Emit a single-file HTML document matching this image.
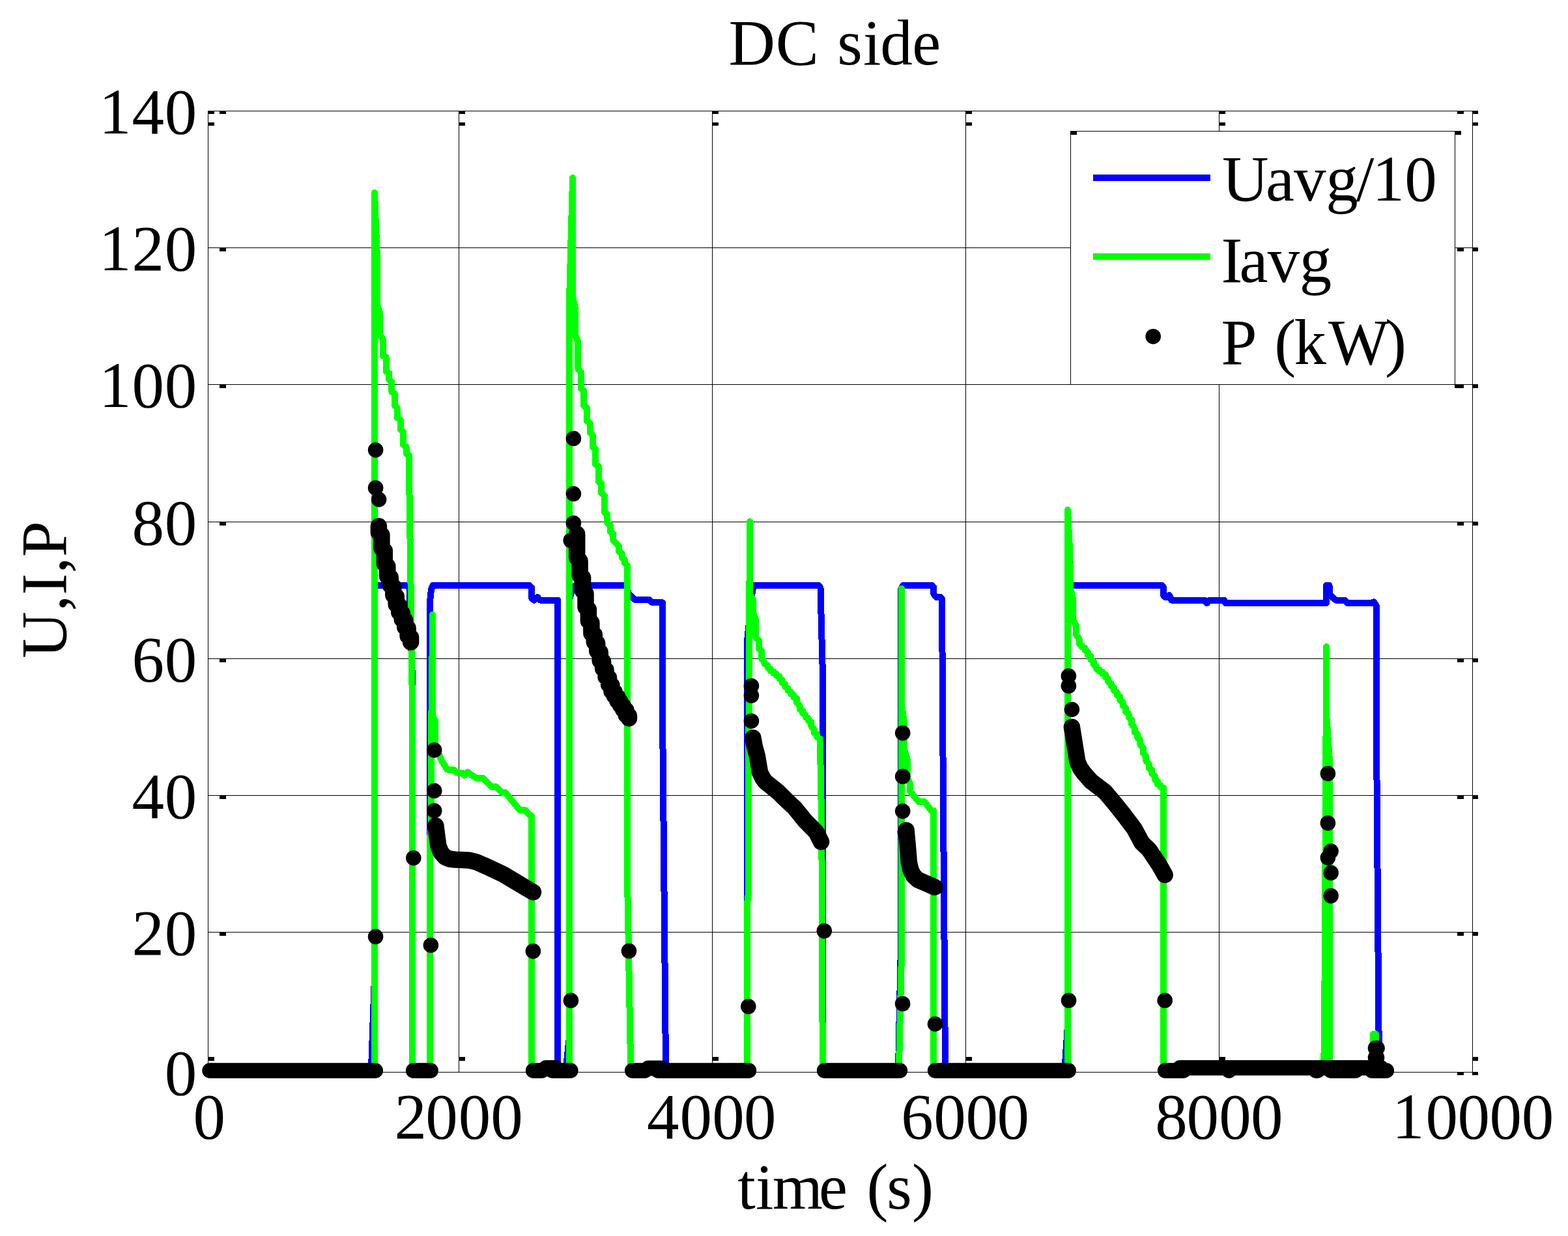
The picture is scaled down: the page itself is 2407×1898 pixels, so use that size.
<!DOCTYPE html>
<html lang="en">
<head>
<meta charset="utf-8">
<title>DC side</title>
<style>html,body{margin:0;padding:0;background:#fff}svg{display:block}</style>
</head>
<body>
<svg width="2407" height="1898" viewBox="0 0 2407 1898">
<rect width="2407" height="1898" fill="#fff"/>
<g fill="#000" shape-rendering="crispEdges">
<rect x="704" y="170" width="1" height="1476"/>
<rect x="1093" y="170" width="1" height="1476"/>
<rect x="1482" y="170" width="1" height="1476"/>
<rect x="1871" y="170" width="1" height="1476"/>
<rect x="319" y="380" width="1941" height="1"/>
<rect x="319" y="590" width="1941" height="1"/>
<rect x="319" y="801" width="1941" height="1"/>
<rect x="319" y="1011" width="1941" height="1"/>
<rect x="319" y="1221" width="1941" height="1"/>
<rect x="319" y="1431" width="1941" height="1"/>
<rect x="319" y="170" width="1" height="1477"/>
<rect x="2260" y="170" width="1" height="1477"/>
<rect x="319" y="170" width="1942" height="1"/>
<rect x="319" y="1646" width="1942" height="1"/>
<rect x="319" y="170" width="10" height="5"/>
<rect x="319" y="188" width="10" height="5"/>
<rect x="319" y="1623" width="10" height="6"/>
<rect x="704" y="170" width="10" height="5"/>
<rect x="704" y="188" width="10" height="5"/>
<rect x="704" y="1623" width="10" height="6"/>
<rect x="1093" y="170" width="10" height="5"/>
<rect x="1093" y="188" width="10" height="5"/>
<rect x="1093" y="1623" width="10" height="6"/>
<rect x="1482" y="170" width="10" height="5"/>
<rect x="1482" y="188" width="10" height="5"/>
<rect x="1482" y="1623" width="10" height="6"/>
<rect x="1871" y="170" width="10" height="5"/>
<rect x="1871" y="188" width="10" height="5"/>
<rect x="1871" y="1623" width="10" height="6"/>
<rect x="2260" y="170" width="9" height="5"/>
<rect x="2260" y="188" width="9" height="5"/>
<rect x="2260" y="1623" width="9" height="6"/>
<rect x="337" y="170" width="10" height="5"/>
<rect x="2237" y="170" width="10" height="5"/>
<rect x="2260" y="170" width="9" height="5"/>
<rect x="337" y="380" width="10" height="6"/>
<rect x="2237" y="380" width="10" height="6"/>
<rect x="2260" y="380" width="9" height="6"/>
<rect x="337" y="590" width="10" height="6"/>
<rect x="2237" y="590" width="10" height="6"/>
<rect x="2260" y="590" width="9" height="6"/>
<rect x="337" y="801" width="10" height="6"/>
<rect x="2237" y="801" width="10" height="6"/>
<rect x="2260" y="801" width="9" height="6"/>
<rect x="337" y="1011" width="10" height="6"/>
<rect x="2237" y="1011" width="10" height="6"/>
<rect x="2260" y="1011" width="9" height="6"/>
<rect x="337" y="1221" width="10" height="6"/>
<rect x="2237" y="1221" width="10" height="6"/>
<rect x="2260" y="1221" width="9" height="6"/>
<rect x="337" y="1431" width="10" height="6"/>
<rect x="2237" y="1431" width="10" height="6"/>
<rect x="2260" y="1431" width="9" height="6"/>
<rect x="337" y="1646" width="10" height="5"/>
<rect x="2237" y="1646" width="10" height="5"/>
<rect x="2260" y="1646" width="9" height="5"/>
</g>
<g fill="none" stroke-width="10" stroke-linejoin="round" stroke-linecap="round" shape-rendering="crispEdges">
<polyline stroke="#00f" points="319,1643 570,1643 570,1641 575,1500 575,905 577,899 625,899 628.7,904 629,928 632.9,1040 632.9,1060 633,1100 633,1641 659.9,1641 659.9,925 662,905 664.5,899 812.7,899 816.3,903 816.3,919 820,921.6 825.2,917 829,921.6 856,921.6 856,1641 869,1641 872,1610 874.3,1590 874.3,920 878,907 883,899 961,899 963,902 964,910 968.4,915 975,921.2 997,921.2 1001.3,925.4 1017.1,925.4 1017.5,1150 1022,1641 1147.4,1641 1147.4,980 1149.5,960 1152,930 1155.5,905 1158,899 1257,899 1259.5,903 1262.5,1020 1263,1300 1263,1641 1379,1641 1383,1450 1383,905 1386,899 1431,899 1433.4,902 1433.4,912 1437,917 1444,917 1446,920 1448,1240 1451,1641 1634.5,1641 1638,1590 1639.2,1570 1639.2,905 1642,899 1784,899 1786.2,902 1786.2,915 1789,917 1791,917 1795,914 1798.5,921.6 1849,921.6 1852.7,926.3 1856.5,921.6 1879,921.6 1881,925.9 2036,925.9 2036,899 2040.5,899 2040.5,911 2046,918 2051,921.7 2064,921.7 2068,925.9 2105,925.9 2109,924.5 2112.7,930 2113,1130 2115,1400 2117,1641"/>
<polyline stroke="#0f0" points="319,1643 575,1643 575,1641 575,296 578.7,390 578.7,467 582.9,480 582.9,513 587.9,521.6 587.9,546.6 592.5,548.2 592.5,569.8 597.4,573.2 597.4,583.1 601.2,586.5 601.2,601.4 606,604.8 606,623 609.8,626.4 609.8,641.3 614.8,644.7 614.8,659.6 619,663 619,682.9 623.6,686.2 623.6,696.2 628.1,699.5 628.1,733 630.3,880 633,1090 633,1641 660.2,1641 660.2,1285 662.1,1270 662.1,1095 662.9,1088 664,944 664.2,1100 668,1106 668,1140 672.5,1155 677.2,1166.5 686.3,1181.5 695.5,1181.5 701.3,1186.5 709.6,1186.5 712.9,1190.6 717.9,1185.6 724.6,1190.6 731.2,1194.8 741.2,1194.8 754.5,1208.1 761.2,1208.1 771.1,1217.2 776.1,1217.2 797.7,1243.8 806,1243.8 814.4,1253 816,1253 816,1641 874.1,1641 874.1,458 879.1,273 879.1,456 882.9,473 882.9,514 887.4,525 887.4,566.5 892,571.5 892,596.4 896,599.8 896,623 900.9,626.4 900.9,646.3 905.7,649.7 905.7,664.6 909.8,668 909.8,686.2 914,689.6 914,712.8 919,716.2 919,739.4 923.1,742.8 923.1,756.6 928.1,761.6 928.1,786.6 932.3,789.9 932.3,803.2 936.9,806.5 936.9,816.5 941.4,819.8 941.4,829.8 945.5,834 949.7,838.1 949.7,846.4 954.7,849.7 954.7,856.4 958.9,859.7 958.9,864.7 963.4,868.9 963.5,1378 968.2,1641 1147.3,1641 1147.3,1385 1148.6,1375 1148.6,1250 1149.9,1040 1150.9,801 1151,912 1155.7,920 1155.7,940 1159.9,951 1159.9,978 1164.9,983 1164.9,996 1169.1,999.4 1169.1,1011 1174,1018 1174,1019.6 1178.5,1021.8 1178.5,1025.1 1182.9,1027.3 1182.9,1030 1187.4,1031.4 1187.4,1033.5 1191.9,1034.9 1191.9,1037 1196.3,1038.4 1196.3,1041.8 1200.8,1044.4 1200.8,1048.3 1205.2,1050.8 1205.2,1054.7 1209.7,1057.3 1209.7,1060.5 1214.2,1062.5 1214.2,1065.5 1218.6,1067.6 1218.6,1070.6 1223.1,1072.6 1223.1,1078.9 1227.6,1083.6 1227.6,1088.8 1232,1091.3 1232,1095 1236.5,1097.6 1236.5,1101 1240.9,1103.3 1240.9,1106.7 1245.4,1109 1245.4,1115.3 1249.9,1120 1249.9,1125.3 1254.3,1127.9 1254.3,1131.8 1258.8,1134.4 1258.8,1136.4 1261.3,1270 1262.8,1641 1379.9,1641 1384.3,1450 1384,904 1384.5,1086 1387.7,1106.5 1387.7,1150 1392.7,1166 1392.7,1195 1396.8,1203 1396.8,1214.5 1406,1226.2 1410.2,1231.2 1419.3,1231.2 1429.3,1244.5 1433.4,1244.5 1433,1641 1639,1641 1639,783 1642.4,851 1642.9,901 1646.6,918 1646.9,951 1652,961 1652,974.5 1656.5,981 1656.5,988 1661,992 1661,993.3 1665.5,995 1665.5,998.5 1669.9,1001.2 1669.9,1005.3 1674.4,1008 1674.4,1012.6 1678.9,1015.9 1678.9,1020.8 1683.4,1024 1683.4,1027.3 1687.8,1028.7 1687.8,1030.8 1692.3,1032.3 1692.3,1034.4 1696.8,1035.8 1696.8,1039.4 1701.2,1042.3 1701.2,1046.7 1705.7,1049.6 1705.7,1053.8 1710.2,1056.5 1710.2,1060.5 1714.7,1063.1 1714.7,1067.2 1719.1,1069.8 1719.1,1074.7 1723.6,1078.3 1723.6,1083.6 1728.1,1087.2 1728.1,1092.6 1732.5,1096.2 1732.5,1101.5 1737,1105.1 1737,1111.8 1741.5,1117.7 1741.5,1123.9 1746,1126.9 1746,1132.1 1750.4,1136.3 1750.4,1143.5 1754.9,1148.7 1754.9,1156.6 1759.4,1161.8 1759.4,1168.9 1763.8,1173.1 1763.8,1179.2 1768.3,1182.7 1768.3,1188.1 1772.8,1191.7 1772.8,1197 1777.3,1200.6 1777.3,1204.3 1781.7,1205.9 1781.7,1208.3 1786.2,1210 1786.2,1211.2 1786,1641 2032.3,1641 2034.3,1420 2034.9,1135 2036.1,1125 2036.1,993 2036.3,1100 2040.8,1165 2041,1641 2108,1641 2108,1588 2112,1588 2112,1641"/>
</g>
<g fill="none" stroke="#000" stroke-width="23.5" stroke-linejoin="round" stroke-linecap="round">
<polyline points="322,1644 576.3,1644"/>
<polyline points="634.6,1644 661.2,1644"/>
<polyline points="818.6,1644 832,1644"/>
<polyline points="838,1639.7 853,1639.7"/>
<polyline points="848,1644 875.9,1644"/>
<polyline points="970.7,1644 990,1644"/>
<polyline points="995,1640.3 1016,1640.3"/>
<polyline points="1010,1644 1149.5,1644"/>
<polyline points="1265.6,1644 1381.4,1644"/>
<polyline points="1435.6,1644 1640.2,1644"/>
<polyline points="1788.6,1644 1816.7,1644"/>
<polyline points="1811.3,1639.7 2120,1639.7"/>
<polyline points="1886.5,1644 1886.6,1644"/>
<polyline points="2020,1644 2022.5,1644"/>
<polyline points="2043,1644 2081,1644"/>
<polyline points="2106,1644 2128.3,1644"/>
<polyline stroke-width="25.5" points="581.4,808 581.4,817.8 585.9,821.6 585.9,841.9 590.3,845.8 590.3,865.8 594.8,869.5 594.8,885 599.3,887.1 599.3,898.8 603.8,901.1 603.8,913.7 608.2,916.2 608.2,928 612.7,930 612.7,939.9 617.2,941.6 617.2,950.7 621.7,952.5 621.7,962.8 626.1,964.8 626.1,976.5 630.6,979.1 630.6,986"/>
<polyline stroke-width="25.5" points="668.9,1268 671,1285 673,1299.5 677,1309 683,1316 690,1319 698,1320 719.6,1321 731,1323.6 747.9,1331 772.8,1342.8 789.4,1352.7 806,1362.7 818.5,1370"/>
<polyline stroke-width="25.5" points="885.7,820 885.7,856.3 890.1,861.4 890.1,883.5 894.6,887 894.6,907.3 899,911.6 899,932.2 903.4,935.8 903.4,953.4 907.9,956.4 907.9,972.5 912.3,974.7 912.3,985.8 916.7,987.9 916.7,999.6 921.2,1001.9 921.2,1014.2 925.6,1016.2 925.6,1026.6 930,1028.7 930,1039.2 934.5,1041.1 934.5,1050.8 938.9,1052.6 938.9,1061.4 943.3,1062.6 943.3,1068.8 947.8,1070 947.8,1076.3 952.2,1077.4 952.2,1082.9 956.6,1084 956.6,1089.6 961.1,1090.7 961.1,1097.9 965.5,1099.3 965.5,1103"/>
<polyline stroke-width="25.5" points="1155.9,1133 1158,1145 1162.4,1161.3 1166.6,1186.3 1170.9,1195 1174.9,1200.5 1182.5,1206.5 1194.8,1216.5 1209,1230.5 1219.8,1240.5 1236.4,1261.1 1253,1277.7 1260.5,1292.7"/>
<polyline stroke-width="25.5" points="1390.2,1277.7 1391.1,1275 1393.6,1302.4 1395.4,1324.8 1398,1336 1402.4,1344.8 1409,1351 1417.3,1354.7 1434.8,1362.2"/>
<polyline stroke-width="25.5" points="1645.4,1116.4 1649.9,1144.7 1654,1169.7 1658,1179 1663.2,1186.3 1674.8,1199.6 1696.4,1216.2 1713.1,1236.2 1726.4,1252.8 1741.3,1272.7 1753,1294.4 1764,1304.9 1779,1327.3 1788.2,1343.5"/>
</g>
<g fill="#000">
<circle cx="576.6" cy="691" r="11.8"/>
<circle cx="576.6" cy="749.2" r="11.8"/>
<circle cx="581.6" cy="767" r="11.8"/>
<circle cx="634.8" cy="1317.5" r="11.8"/>
<circle cx="576.6" cy="1438.3" r="11.8"/>
<circle cx="661.4" cy="1451.5" r="11.8"/>
<circle cx="818.4" cy="1460.6" r="11.8"/>
<circle cx="876.4" cy="1536.4" r="11.8"/>
<circle cx="666.7" cy="1151.9" r="11.8"/>
<circle cx="666.7" cy="1214.4" r="11.8"/>
<circle cx="666.7" cy="1245" r="11.8"/>
<circle cx="880.4" cy="673.4" r="11.8"/>
<circle cx="880.4" cy="758.3" r="11.8"/>
<circle cx="880.4" cy="803.2" r="11.8"/>
<circle cx="876.2" cy="829.8" r="11.8"/>
<circle cx="965.5" cy="1460.3" r="11.8"/>
<circle cx="1148.8" cy="1545.6" r="11.8"/>
<circle cx="1265.3" cy="1429.6" r="11.8"/>
<circle cx="1153.4" cy="1053.2" r="11.8"/>
<circle cx="1153.4" cy="1068.1" r="11.8"/>
<circle cx="1153.4" cy="1107.2" r="11.8"/>
<circle cx="1385.7" cy="1125.6" r="11.8"/>
<circle cx="1385.7" cy="1192.4" r="11.8"/>
<circle cx="1385.7" cy="1245.6" r="11.8"/>
<circle cx="1385.6" cy="1541.3" r="11.8"/>
<circle cx="1435.5" cy="1572.5" r="11.8"/>
<circle cx="1640.4" cy="1038" r="11.8"/>
<circle cx="1640.4" cy="1053.3" r="11.8"/>
<circle cx="1645.4" cy="1089.5" r="11.8"/>
<circle cx="1640.6" cy="1536.3" r="11.8"/>
<circle cx="1788.2" cy="1536.3" r="11.8"/>
<circle cx="2038.4" cy="1187.9" r="11.8"/>
<circle cx="2038.4" cy="1263.9" r="11.8"/>
<circle cx="2043.1" cy="1307.1" r="11.8"/>
<circle cx="2038.4" cy="1317.1" r="11.8"/>
<circle cx="2043.1" cy="1340.3" r="11.8"/>
<circle cx="2043.1" cy="1375.6" r="11.8"/>
<circle cx="2111.5" cy="1609.5" r="11.8"/>
<circle cx="2114" cy="1609.5" r="11.8"/>
<circle cx="2111.5" cy="1624" r="11.8"/>
<circle cx="2113.5" cy="1624" r="11.8"/>
</g>
<g shape-rendering="crispEdges">
<rect x="1643.5" y="201.5" width="590" height="389" fill="#fff" stroke="#000" stroke-width="1"/>
<rect x="1643" y="201" width="10" height="6"/><rect x="2233" y="201" width="10" height="6"/><rect x="2233" y="590" width="14" height="6"/>
<rect x="1678" y="268" width="180" height="10" fill="#00f"/>
<rect x="1678" y="389" width="180" height="10" fill="#0f0"/>
</g>
<circle cx="1770.2" cy="516.7" r="11.8"/>
<g font-family="'Liberation Serif', 'Times New Roman', Times, serif" font-size="99" fill="#000">
<text x="1118.5 1190.7 1257 1285.2 1324.9 1351.2 1400.2" y="98.5">DC side</text>
<text x="1132.3 1160 1185.9 1256.9 1302 1330.4 1361.2 1400.1" y="1855.5">time (s)</text>
<text transform="translate(100.5,1011) rotate(-90)" x="0.3 72.5 97.5 130.8 155.8" y="0">U,I,P</text>
<text x="152 202.5 252.8" y="205">140</text>
<text x="152 202.5 252.8" y="415">120</text>
<text x="152 202.5 252.8" y="625">100</text>
<text x="202.5 252.8" y="836">80</text>
<text x="202.5 252.8" y="1046">60</text>
<text x="202.5 252.8" y="1256">40</text>
<text x="202.5 252.8" y="1466">20</text>
<text x="252.8" y="1681">0</text>
<text x="296.6" y="1747.8">0</text>
<text x="605.6 653.3 703.8 753.3" y="1747.8">2000</text>
<text x="993 1043.4 1093.3 1142.1" y="1747.8">4000</text>
<text x="1383.3 1433.2 1482.4 1530.6" y="1747.8">6000</text>
<text x="1773.2 1821.5 1871.2 1919.9" y="1747.8">8000</text>
<text x="2137 2188.6 2237.4 2286.5 2335.7" y="1747.8">10000</text>
<text x="1876 1943.1 1986 2035.2 2081.8 2106.6 2156.3" y="307.9">Uavg/10</text>
<text x="1874.5 1902.4 1945.7 1994.8" y="432.9">Iavg</text>
<text x="1874.5 1930 1956.3 1986.5 2038.9 2125.9" y="559.2">P (kW)</text>
</g>
</svg>
</body>
</html>
